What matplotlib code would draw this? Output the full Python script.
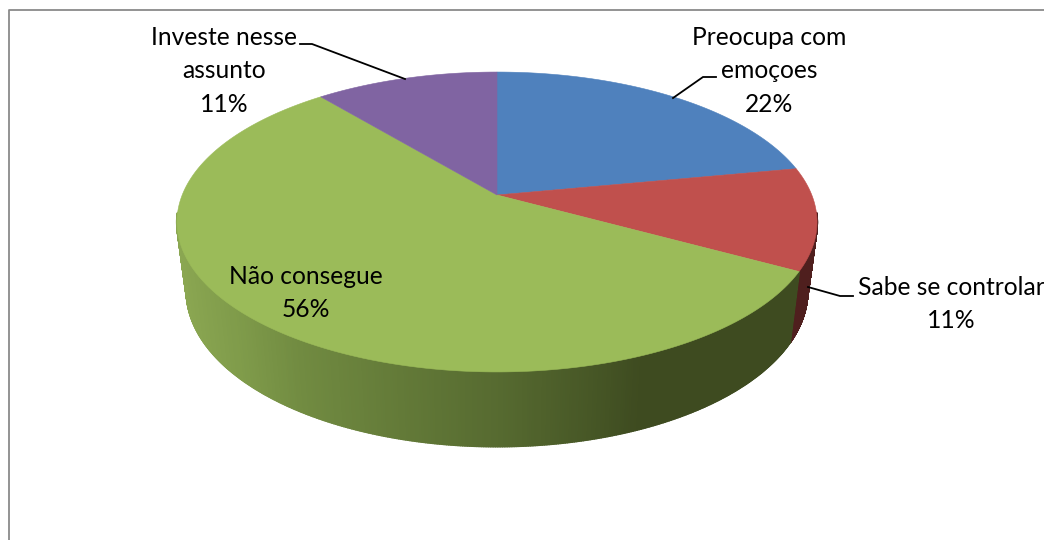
import numpy as np
import matplotlib
matplotlib.use('Agg')
import matplotlib.pyplot as plt
from matplotlib.collections import PolyCollection
from matplotlib.colors import LinearSegmentedColormap

categories = ['Preocupa com\nemoçoes', 'Sabe se controlar', 'Não consegue', 'Investe nesse\nassunto']
values = [22, 11, 56, 11]
top_colors = ['#4f81bd', '#c0504d', '#9bbb59', '#8064a2']
wall_colors = ['#2a4365', '#4f1f1e', None, '#41305a']

# label centres and leader lines, in figure pixels
label_pos = [(769, 71), (951, 304), (306, 293), (224, 71)]
leaders = [
    [(716, 77), (703, 77), (673, 98)],
    [(853, 296), (840, 296), (808, 287)],
    None,
    [(300, 44), (312, 44), (405, 79)],
]

# pie geometry: a tilted disc seen in perspective
cx, cy = 497, 195
rx, ry = 314.8, 145.1
persp = 0.18
wall_shrink = 0.97
wall_base, wall_slope = 67.6, 6.9
# only this stretch of the rim shows a side wall
wall_from, wall_to = 97, 263

# shading along the side of the big slice, left to right
wall_x = [177, 240, 300, 400, 500, 590, 640, 817]
wall_shade = ['#8ba752', '#7f9b4a', '#718b41', '#637a38', '#566a30', '#475726', '#3e4b20', '#3e4b20']

plt.rcParams['font.family'] = ['Lato', 'DejaVu Sans']


def top_rim(a):
    # a is in degrees, clockwise from the back of the disc
    t = np.radians(a)
    u, v = np.sin(t), np.cos(t)
    w = 1 + persp * v
    return cx + rx * u / w, cy - ry * v / w


def bottom_rim(a):
    t = np.radians(a)
    x, y = top_rim(a)
    return cx + (x - cx) * wall_shrink, y + wall_base - wall_slope * np.cos(t)


def wall_quads(a0, a1):
    # one small quad per step, so the part outside both rims gets filled too
    a = np.linspace(a0, a1, 400)
    xt, yt = top_rim(a)
    xb, yb = bottom_rim(a)
    quads = []
    for j in range(len(a) - 1):
        quads.append([(xt[j], yt[j]), (xt[j + 1], yt[j + 1]), (xb[j + 1], yb[j + 1]), (xb[j], yb[j])])
    return np.array(quads)


fig = plt.figure(figsize=(10.44, 5.4), dpi=100)
ax = fig.add_axes([0, 0, 1, 1])

edges = np.cumsum([0] + values) * 3.6
stops = [(x - wall_x[0]) / (wall_x[-1] - wall_x[0]) for x in wall_x]
wall_cmap = LinearSegmentedColormap.from_list('wall', list(zip(stops, wall_shade)))

# side walls first, the top faces go over them
for i, color in enumerate(wall_colors):
    a0, a1 = max(edges[i], wall_from), min(edges[i + 1], wall_to)
    if a1 <= a0:
        continue
    quads = wall_quads(a0, a1)
    if color is None:
        mid = quads[:, :, 0].mean(axis=1)
        shades = wall_cmap((mid - wall_x[0]) / (wall_x[-1] - wall_x[0]))
    else:
        shades = [color] * len(quads)
    ax.add_collection(PolyCollection(quads, facecolors=shades, edgecolors=shades, linewidths=1.5, zorder=1))

# top faces
for i, color in enumerate(top_colors):
    a = np.linspace(edges[i], edges[i + 1], 200)
    x, y = top_rim(a)
    ax.fill(np.r_[cx, x], np.r_[cy, y], fc=color, ec=color, lw=0.4, zorder=2)

# leader lines
for line in leaders:
    if line is None:
        continue
    xs, ys = zip(*line)
    ax.plot(xs, ys, color='black', lw=1.3, zorder=3, solid_joinstyle='miter')

# labels
for name, val, (x, y) in zip(categories, values, label_pos):
    ax.text(x, y, f'{name}\n{val}%', ha='center', va='center', fontsize=17.7,
            color='black', linespacing=1.53, zorder=4)

# chart border, only left and top fall inside the image
ax.plot([9, 9, 1044], [540, 9.5, 9.5], color='#8a8a8a', lw=1.3, zorder=0)

ax.set_xlim(0, 1044)
ax.set_ylim(540, 0)
ax.axis('off')
fig.savefig('out.png', dpi=100)
